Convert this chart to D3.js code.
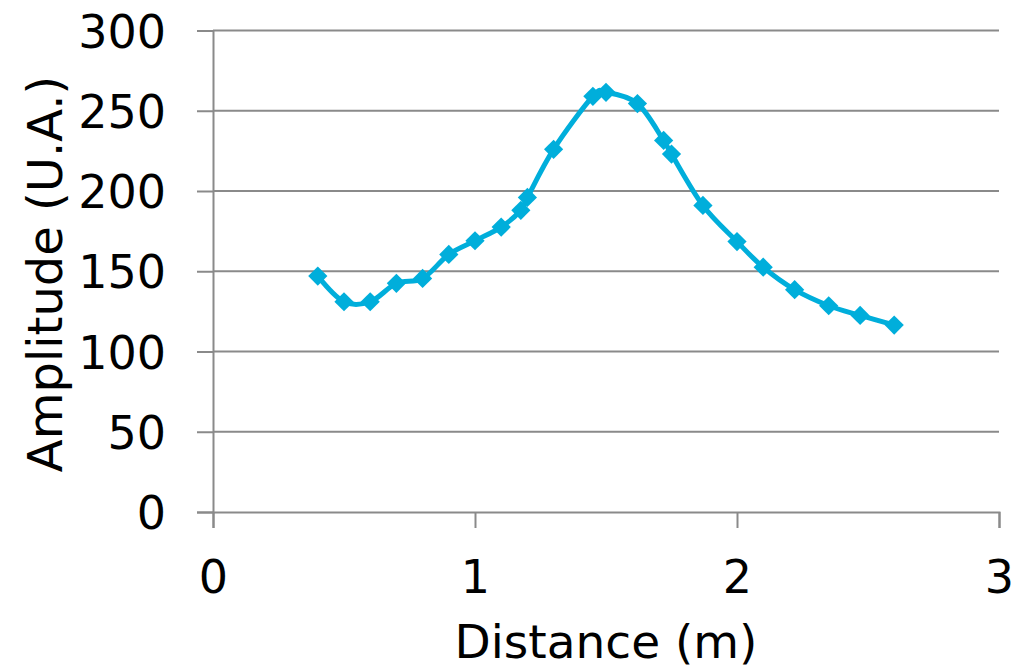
<!DOCTYPE html>
<html>
<head>
<meta charset="utf-8">
<script src="https://cdn.jsdelivr.net/npm/d3@7"></script>
<style>
  html, body { margin: 0; padding: 0; background: #fff; }
  svg { display: block; }
  text { font-family: "DejaVu Sans", Verdana, sans-serif; fill: #000; }
</style>
</head>
<body>
<svg id="chart" width="1018" height="668"></svg>
<script>
const distances = [0.40, 0.50, 0.60, 0.70, 0.80, 0.90, 1.00, 1.10, 1.175, 1.20, 1.30, 1.45, 1.50, 1.62, 1.72, 1.75, 1.87, 2.00, 2.10, 2.22, 2.35, 2.47, 2.60];
const amplitudes = [147, 131, 131, 142.5, 145.5, 160.5, 169, 177.5, 188, 196, 226, 259, 261.5, 254.5, 231.5, 223, 191, 168.5, 152.5, 138.5, 128.5, 122.5, 116.5];
const xTicks = [0, 1, 2, 3];
const yTicks = [0, 50, 100, 150, 200, 250, 300];
const xTitle = "Distance (m)";
const yTitle = "Amplitude (U.A.)";

const svg = d3.select("#chart");
const mLeft = 213, mRight = 999, mTop = 30.5, mBottom = 512;

const x = d3.scaleLinear().domain([0, 3]).range([mLeft, mRight]);
const y = d3.scaleLinear().domain([0, 300]).range([mBottom, mTop]);

const gridColor = "#8a8a8a";

// gridlines
svg.append("g").selectAll("line").data(yTicks.filter(d => d > 0)).join("line")
  .attr("x1", mLeft).attr("x2", mRight)
  .attr("y1", d => y(d)).attr("y2", d => y(d))
  .attr("stroke", gridColor).attr("stroke-width", 2);

// y axis
const yAxis = svg.append("g").attr("transform", `translate(${mLeft},0)`)
  .call(d3.axisLeft(y).tickValues(yTicks).tickSize(16).tickPadding(31).tickFormat(d3.format("d")));
yAxis.select(".domain").attr("stroke", gridColor).attr("stroke-width", 2);
yAxis.selectAll(".tick line").attr("stroke", gridColor).attr("stroke-width", 2);
yAxis.selectAll(".tick text").attr("font-size", 46).attr("font-family", "DejaVu Sans").attr("fill", "#000").attr("dy", "0.36em");

// x axis
const xAxis = svg.append("g").attr("transform", `translate(0,${mBottom})`)
  .call(d3.axisBottom(x).tickValues(xTicks).tickSize(16).tickPadding(32).tickFormat(d3.format("d")));
xAxis.select(".domain").attr("stroke", gridColor).attr("stroke-width", 2);
xAxis.selectAll(".tick line").attr("stroke", gridColor).attr("stroke-width", 2);
xAxis.selectAll(".tick text").attr("font-size", 46).attr("font-family", "DejaVu Sans").attr("fill", "#000");

// titles
svg.append("text").attr("x", 606).attr("y", 658).attr("text-anchor", "middle")
  .attr("font-size", 47).text(xTitle);
svg.append("text").attr("transform", "translate(62,274) rotate(-90)").attr("text-anchor", "middle")
  .attr("font-size", 48).text(yTitle);

const data = distances.map((d, i) => ({ x: d, y: amplitudes[i] }));
const color = "#00aedb";

const line = d3.line().x(d => x(d.x)).y(d => y(d.y)).curve(d3.curveCardinal.tension(0));
svg.append("path").datum(data).attr("d", line)
  .attr("fill", "none").attr("stroke", color).attr("stroke-width", 5).attr("stroke-linejoin", "round");

svg.append("g").selectAll("path").data(data).join("path")
  .attr("transform", d => `translate(${x(d.x)},${y(d.y)}) rotate(45)`)
  .attr("d", d3.symbol().type(d3.symbolSquare).size(185))
  .attr("fill", color);
</script>
</body>
</html>
